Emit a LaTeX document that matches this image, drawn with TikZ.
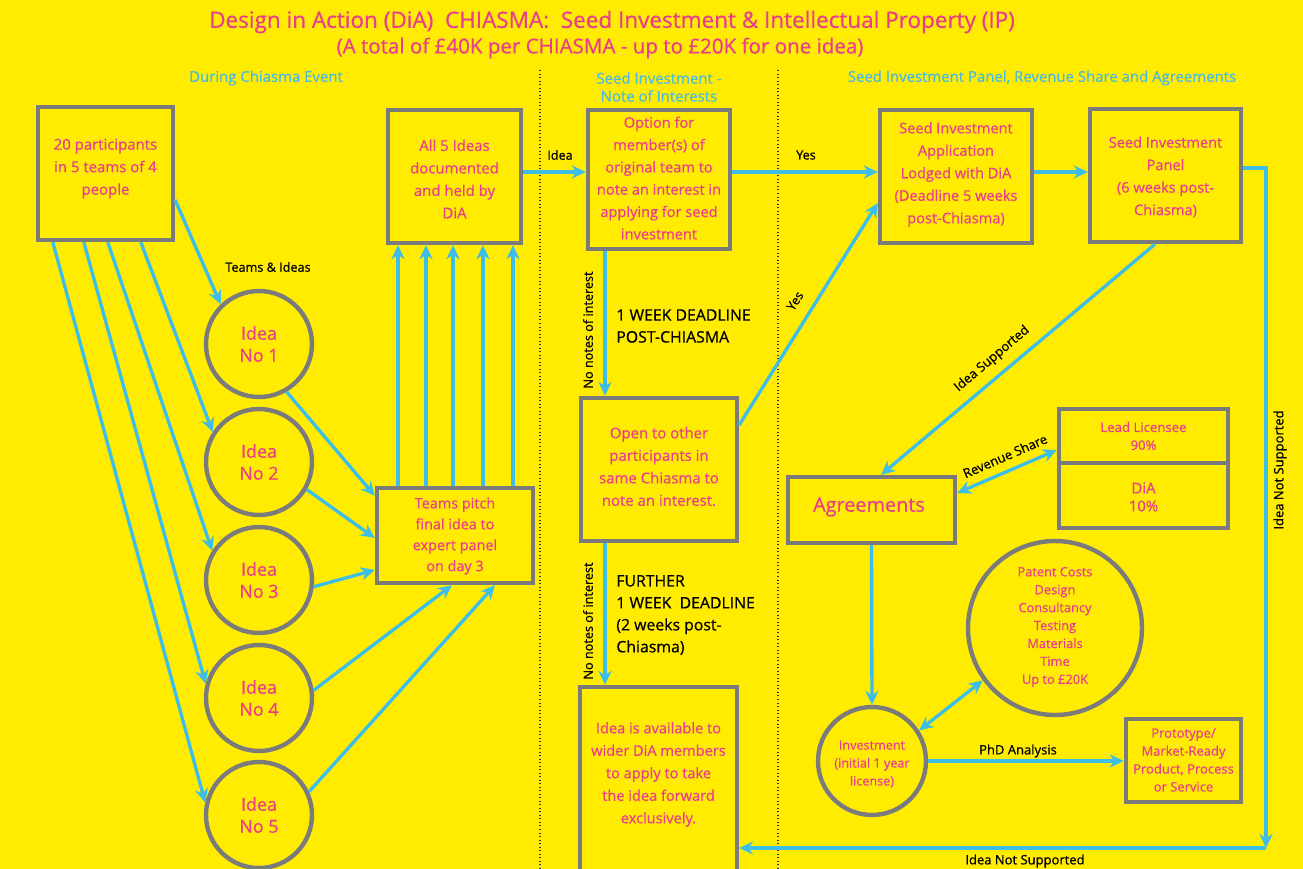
\documentclass[tikz,border=0pt]{standalone}
\usepackage{fontspec}
\setmainfont{Open Sans}[FakeBold=0.6]
\usetikzlibrary{arrows.meta,calc}
\definecolor{bgY}{RGB}{255,236,0}
\definecolor{pinkT}{RGB}{234,62,140}
\definecolor{cyanA}{RGB}{60,190,232}
\definecolor{headC}{RGB}{72,188,224}
\definecolor{boxG}{RGB}{123,123,123}
\begin{document}
\begin{tikzpicture}[x=0.02cm,y=-0.02cm,
  box/.style={draw=boxG, line width=2.5pt, rectangle, inner sep=0pt},
  circ/.style={draw=boxG, line width=2.5pt, circle, inner sep=0pt},
  ptxt/.style={text=pinkT, align=center, inner sep=0pt, font=\fontsize{8.5}{12.8}\selectfont},
  lbl/.style={text=black, inner sep=0pt, font=\fontsize{7.2}{8}\selectfont},
  big/.style={text=black, align=left, inner sep=0pt, font=\fontsize{9}{12.5}\selectfont},
  arr/.style={draw=cyanA, line width=1.9pt, -{Stealth[length=8pt,width=7.5pt]}},
  darr/.style={draw=cyanA, line width=1.9pt, {Stealth[length=8pt,width=7.5pt]}-{Stealth[length=8pt,width=7.5pt]}},
  head/.style={text=headC, align=center, inner sep=0pt, font=\fontsize{8.5}{10.2}\selectfont},
  sep/.style={draw=black!80, line width=0.8pt, dash pattern=on 0.5pt off 1.5pt},
]
\fill[bgY] (0,0) rectangle (1303,869);
\useasboundingbox (0,0) rectangle (1303,869);

% titles
\node[text=pinkT, inner sep=0pt, font=\fontsize{12.8}{14}\selectfont] (title) at (612,22) {Design in Action (DiA)\ \ CHIASMA:\ \ Seed Investment \& Intellectual Property (IP)};
\node[text=pinkT, inner sep=0pt, font=\fontsize{11.7}{13}\selectfont] (subtitle) at (600,48) {(A total of £40K per CHIASMA - up to £20K for one idea)};
\node[head] (h1) at (266,78) {During Chiasma Event};
\node[head] (h2) at (659,87) {Seed Investment -\\Note of Interests};
\node[head] (h3) at (1042,78) {Seed Investment Panel, Revenue Share and Agreements};

% separators
\coordinate (s1a) at (540,70); \coordinate (s1b) at (540,869);
\coordinate (s2a) at (778,70); \coordinate (s2b) at (778,869);
\draw[sep] (s1a) -- (s1b);
\draw[sep] (s2a) -- (s2b);

% boxes
\node[box, minimum width=2.70cm, minimum height=2.66cm] (b20) at (105.5,173.5) {};
\node[ptxt] (b20t) at (105.5,168.5) {20 participants\\in 5 teams of 4\\people};
\node[box, minimum width=2.66cm, minimum height=2.66cm] (all5) at (454.5,176.5) {};
\node[ptxt] (all5t) at (454.5,179) {All 5 Ideas\\documented\\and held by\\DiA};
\node[box, minimum width=2.84cm, minimum height=2.78cm] (opt) at (659,179.5) {};
\node[ptxt, font=\fontsize{8.3}{12.7}\selectfont] (optt) at (659,178) {Option for\\member(s) of\\original team to\\note an interest in\\applying for seed\\investment};
\node[box, minimum width=3.12cm, minimum height=2.86cm] (open) at (659,469.5) {};
\node[ptxt] (opent) at (659,466.5) {Open to other\\participants in\\same Chiasma to\\note an interest.};
\node[box, minimum width=3.14cm, minimum height=4.12cm] (avail) at (658.5,790) {};
\node[ptxt, font=\fontsize{8.3}{12.8}\selectfont] (availt) at (658.5,774.5) {Idea is available to\\wider DiA members\\to apply to take\\the idea forward\\exclusively.};
\node[box, minimum width=3.04cm, minimum height=2.66cm] (seed) at (956,176.5) {};
\node[ptxt, font=\fontsize{8.3}{12.8}\selectfont] (seedt) at (956,174.5) {Seed Investment\\Application\\Lodged with DiA\\(Deadline 5 weeks\\post-Chiasma)};
\node[box, minimum width=3.02cm, minimum height=2.66cm] (panel) at (1165.5,175.5) {};
\node[ptxt, font=\fontsize{8.3}{12.8}\selectfont] (panelt) at (1165.5,177) {Seed Investment\\Panel\\(6 weeks post-\\Chiasma)};
\node[box, minimum width=3.34cm, minimum height=1.32cm] (agree) at (871.5,510) {};
\node[text=pinkT, inner sep=0pt, font=\fontsize{11.3}{13}\selectfont] (agreet) at (869,507) {Agreements};
\node[box, minimum width=3.38cm, minimum height=2.38cm] (lic) at (1143.5,468.5) {};
\coordinate (licL) at ($(lic.north west)+(0,56)$);
\coordinate (licR) at ($(lic.north east)+(0,56)$);
\draw[draw=boxG, line width=2.5pt] (licL) -- (licR);
\node[ptxt, font=\fontsize{7.5}{10.2}\selectfont] (lic1) at (1143.5,436) {Lead Licensee\\90\%};
\node[ptxt, font=\fontsize{8.5}{10.2}\selectfont] (lic2) at (1143.5,497) {DiA\\10\%};
\node[box, minimum width=2.30cm, minimum height=1.66cm] (proto) at (1183.5,760.5) {};
\node[ptxt, font=\fontsize{7.4}{10.2}\selectfont] (protot) at (1183.5,760) {Prototype/\\Market-Ready\\Product, Process\\or Service};
\node[box, minimum width=3.12cm, minimum height=1.90cm] (teams) at (455,535.5) {};
\node[ptxt, font=\fontsize{8.2}{11.9}\selectfont] (teamst) at (455,536) {Teams pitch\\final idea to\\expert panel\\on day 3};

% circles
\foreach \i/\yy in {1/344,2/462,3/580,4/698,5/815}{
  \node[circ, minimum size=2.12cm] (idea\i) at (259,\yy) {};
  \node[ptxt, font=\fontsize{10.2}{12.5}\selectfont] (idea\i t) at (259,\yy) {Idea\\No \i};
}
\node[circ, minimum size=3.48cm] (patent) at (1055,628) {};
\node[ptxt, font=\fontsize{7.3}{10.2}\selectfont] (patentt) at (1055,627) {Patent Costs\\Design\\Consultancy\\Testing\\Materials\\Time\\Up to £20K};
\node[circ, minimum size=2.16cm] (invest) at (872,761) {};
\node[ptxt, font=\fontsize{7.2}{10.2}\selectfont] (investt) at (872,764) {Investment\\(initial 1 year\\license)};

% left side connectors
\draw[arr] ($(b20.east)+(0,26.5)$) -- (idea1.134);
\node[lbl] (lteams) at (268,267) {Teams \& Ideas};
\draw[arr] ($(b20.south west)+(105,0)$) -- (idea2.147);
\draw[arr] ($(b20.south west)+(72,0)$) -- (idea3.148);
\draw[arr] ($(b20.south west)+(48,0)$) -- (idea4.165);
\draw[arr] ($(b20.south west)+(17,0)$) -- (idea5.167);

\draw[arr] (idea1.-60) -- ($(teams.north west)+(0,10)$);
\draw[arr] (idea2.-30) -- ($(teams.west)+(0,2.5)$);
\draw[arr] (idea3.-7) -- ($(teams.west)+(0,34.5)$);
\draw[arr] (idea4.8) -- ($(teams.south)+(-3,0)$);
\draw[arr] (idea5.25) -- ($(teams.south)+(40,0)$);

\foreach \d in {-57,-29,-2,28,58}{
  \draw[arr] ($(teams.north)+(\d,0)$) coordinate (tu) -- (tu |- all5.south);
}

% top row
\draw[arr] ($(all5.east)+(0,-4.5)$) coordinate (ia) -- (ia -| opt.west);
\node[lbl] (lidea) at (560,155) {Idea};
\draw[arr] ($(opt.east)+(0,-7.5)$) coordinate (ib) -- (ib -| seed.west);
\node[lbl] (lyes1) at (806,155) {Yes};
\draw[arr] ($(seed.east)+(0,-4.5)$) coordinate (ic) -- (ic -| panel.west);

% middle column
\draw[arr] ($(opt.south)+(-54,0)$) coordinate (id) -- (id |- open.north);
\node[lbl, rotate=90] (lno1) at (588,330) {No notes of interest};
\node[big, anchor=west] (ldead1) at (616,326) {1 WEEK DEADLINE\\POST-CHIASMA};
\draw[arr] ($(open.east)+(0,-44.5)$) -- ($(seed.west)+(0,26.5)$);
\node[lbl, rotate=57.6] (lyes2) at (795,301) {Yes};
\draw[arr] ($(open.south)+(-54,0)$) coordinate (ie) -- (ie |- avail.north);
\node[lbl, rotate=90] (lno2) at (588,621) {No notes of interest};
\node[big, anchor=west] (ldead2) at (616,615) {FURTHER\\1 WEEK\ \ DEADLINE\\(2 weeks post-\\Chiasma)};

% right side
\draw[arr] ($(panel.south)+(-10.5,0)$) -- ($(agree.north)+(9.5,0)$);
\node[lbl, rotate=40.4, font=\fontsize{7.4}{8}\selectfont] (lsup) at (992,359) {Idea Supported};
\draw[darr] ($(agree.east)+(0,-17)$) -- ($(lic.west)+(0,-18.5)$);
\node[lbl, rotate=23.5, font=\fontsize{7.4}{8}\selectfont] (lrev) at (1005,456) {Revenue Share};
\draw[arr] (agree.south) -- (invest.north);
\draw[darr] (invest.33) -- (patent.216);
\draw[arr] (invest.east) -- (invest.east -| proto.west);
\node[lbl, font=\fontsize{7.4}{8}\selectfont] (lphd) at (1018,751) {PhD Analysis};

\coordinate (corner) at (1266,848);
\draw[arr] ($(panel.east)+(0,-7.5)$) -| (corner);
\node[lbl, rotate=90, font=\fontsize{7.4}{8}\selectfont] (lns1) at (1280,470) {Idea Not Supported};
\draw[arr] (corner) -- (corner -| avail.east);
\node[lbl, font=\fontsize{7.4}{8}\selectfont] (lns2) at (1025,861) {Idea Not Supported};
\end{tikzpicture}
\end{document}
